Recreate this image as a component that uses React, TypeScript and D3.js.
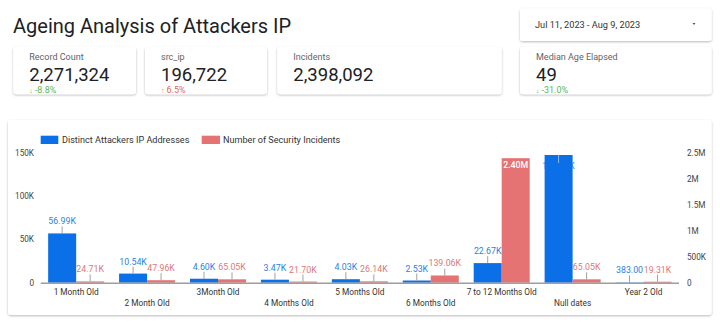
import React from "react";
import * as d3 from "d3";

const categories = [
  "1 Month Old",
  "2 Month Old",
  "3Month Old",
  "4 Months Old",
  "5 Months Old",
  "6 Months Old",
  "7 to 12 Months Old",
  "Null dates",
  "Year 2 Old",
];
const distinctIPs = [56990, 10540, 4600, 3470, 4030, 2530, 22670, 147680, 383];
const incidents = [24710, 47960, 65050, 21700, 26140, 139060, 2400000, 65050, 19310];
const seriesNames = ["Distinct Attackers IP Addresses", "Number of Security Incidents"];
const leftTicks = [0, 50000, 100000, 150000];
const rightTicks = [0, 500000, 1000000, 1500000, 2000000, 2500000];

const kpiLabels = ["Record Count", "src_ip", "Incidents", "Median Age Elapsed"];
const kpiValues = ["2,271,324", "196,722", "2,398,092", "49"];
const kpiChanges = ["-8.8%", "6.5%", "", "-31.0%"];
const kpiUp = [false, true, false, false];
const dateRange = "Jul 11, 2023 - Aug 9, 2023";
const title = "Ageing Analysis of Attackers IP";

const BLUE = "#0b6fe8";
const RED = "#e57373";
const BLUE_TXT = "#2f80e6";
const RED_TXT = "#e07777";
const FONT = "Roboto, 'Noto Sans', sans-serif";

function fmt(v: number) {
  if (v >= 1e6) return (v / 1e6).toFixed(2) + "M";
  if (v >= 1e3) return (v / 1e3).toFixed(2) + "K";
  return v.toFixed(2);
}
function fmtTick(v: number) {
  if (v === 0) return "0";
  if (v >= 1e6) return d3.format("~")(v / 1e6) + "M";
  return d3.format("~")(v / 1e3) + "K";
}

const Card = ({ x, y, w, h }: { x: number; y: number; w: number; h: number }) => (
  <rect x={x} y={y} width={w} height={h} rx={3} fill="#fff" filter="url(#shadow)" />
);

export default function App() {
  const plotL = 40.7;
  const plotR = 679;
  const yBase = 282.7;
  const yTop = 153;

  const x0 = d3.scaleBand<string>().domain(categories).range([plotL, plotR]).padding(0);
  const x1 = d3
    .scaleBand<number>()
    .domain([0, 1])
    .range([0, x0.bandwidth()])
    .paddingInner(0)
    .paddingOuter(0.266);
  const yL = d3.scaleLinear().domain([0, 150000]).range([yBase, yTop]);
  const yR = d3.scaleLinear().domain([0, 2500000]).range([yBase, yTop]);
  const clampY = yTop + 15;

  const series = [
    { vals: distinctIPs, scale: yL, color: BLUE, txt: BLUE_TXT, insideTxt: "#3a86ea", leader: true },
    { vals: incidents, scale: yR, color: RED, txt: RED_TXT, insideTxt: "#ffffff", leader: false },
  ];

  const cards = [
    { x: 13.3, y: 46.7, w: 122.7, h: 47.6 },
    { x: 145, y: 46.7, w: 122, h: 47.6 },
    { x: 277.3, y: 46.7, w: 224.4, h: 47.6 },
    { x: 520, y: 46.7, w: 191.7, h: 47.6 },
  ];

  return (
    <svg
      width={720}
      height={322}
      style={{ position: "absolute", left: 0, top: 0, background: "#fff" }}
      fontFamily={FONT}
    >
      <defs>
        <filter id="shadow" x="-10%" y="-20%" width="120%" height="150%">
          <feDropShadow dx="0" dy="1" stdDeviation="1" floodColor="#000" floodOpacity="0.28" />
        </filter>
      </defs>
      <rect x={0} y={0} width={720} height={322} fill="#fff" />

      {/* Title */}
      <text x={13} y={33} fontSize={20} fill="#202124">
        {title}
      </text>

      {/* Date selector */}
      <Card x={520} y={8.3} w={191.7} h={32.7} />
      <text x={535} y={28} fontSize={9.2} fill="#333">
        {dateRange}
      </text>
      <path d="M692.5,23 L695.5,23 L694,25 Z" fill="#555" />

      {/* KPI cards */}
      {cards.map((c, i) => (
        <g key={i}>
          <Card x={c.x} y={c.y} w={c.w} h={c.h} />
          <text x={c.x + 16} y={60} fontSize={9} fill="#5f6368">
            {kpiLabels[i]}
          </text>
          <text x={c.x + 16} y={80.5} fontSize={18.5} fill="#202124">
            {kpiValues[i]}
          </text>
          {kpiChanges[i] && (
            <text x={c.x + 16} y={92.5} fontSize={9} fill={kpiUp[i] ? "#e06666" : "#5cb85c"}>
              <tspan fontSize={7}>{kpiUp[i] ? "↑" : "↓"}</tspan>
              <tspan dx={2}>{kpiChanges[i]}</tspan>
            </text>
          )}
        </g>
      ))}

      {/* Chart card */}
      <Card x={8} y={120} w={703.7} h={195} />

      {/* Legend */}
      <rect x={40.7} y={135.7} width={17.6} height={8.3} fill={BLUE} />
      <text x={62} y={143.3} fontSize={9.1} fill="#333">
        {seriesNames[0]}
      </text>
      <rect x={201.7} y={135.7} width={18.3} height={8.3} fill={RED} />
      <text x={223} y={143.3} fontSize={9.1} fill="#333">
        {seriesNames[1]}
      </text>

      {/* Left axis ticks */}
      {leftTicks.map((t) => (
        <text key={"l" + t} x={34} y={yL(t) + 3} fontSize={8.2} fill="#444" textAnchor="end">
          {fmtTick(t)}
        </text>
      ))}
      {/* Right axis ticks */}
      {rightTicks.map((t) => (
        <text key={"r" + t} x={687} y={yR(t) + 3} fontSize={8.2} fill="#444">
          {fmtTick(t)}
        </text>
      ))}

      {/* Value labels that sit inside bars are drawn first so later bars cover them */}
      {series.map((s, si) =>
        categories.map((c, ci) => {
          const cx = (x0(c) as number) + (x1(si) as number) + x1.bandwidth() / 2;
          const top = s.scale(s.vals[ci]);
          if (top - 9 >= clampY || s.leader === false) return null;
          return (
            <text
              key={"in" + si + "-" + ci}
              x={cx}
              y={clampY + 1}
              fontSize={8.8}
              textAnchor="middle"
              fill={s.insideTxt}
            >
              {fmt(s.vals[ci])}
            </text>
          );
        })
      )}

      {/* Bars */}
      {series.map((s, si) =>
        categories.map((c, ci) => {
          const bx = (x0(c) as number) + (x1(si) as number);
          const top = s.scale(s.vals[ci]);
          return (
            <rect
              key={si + "-" + ci}
              x={bx}
              y={top}
              width={x1.bandwidth()}
              height={Math.max(0, yBase - top)}
              fill={s.color}
            />
          );
        })
      )}

      {/* Baseline */}
      <line x1={plotL} x2={plotR} y1={yBase + 0.5} y2={yBase + 0.5} stroke="#9e9e9e" strokeWidth={1.6} />

      {/* Value labels */}
      {series.map((s, si) =>
        categories.map((c, ci) => {
          const cx = (x0(c) as number) + (x1(si) as number) + x1.bandwidth() / 2;
          const top = s.scale(s.vals[ci]);
          const base = top - 9;
          const clamped = base < clampY;
          if (clamped) {
            return s.leader ? (
              <line
                key={"lb" + si + "-" + ci}
                x1={cx}
                x2={cx}
                y1={top}
                y2={top + 8}
                stroke="#8fb8f2"
                strokeWidth={1}
              />
            ) : (
              <text
                key={"lb" + si + "-" + ci}
                x={cx}
                y={clampY}
                fontSize={8.8}
                textAnchor="middle"
                fill={s.insideTxt}
                fontWeight={500}
              >
                {fmt(s.vals[ci])}
              </text>
            );
          }
          return (
            <g key={"lb" + si + "-" + ci}>
              <line x1={cx} x2={cx} y1={top} y2={top - 7} stroke="#a0a0a0" strokeWidth={1} />
              <text x={cx} y={base} fontSize={8.8} textAnchor="middle" fill={s.txt}>
                {fmt(s.vals[ci])}
              </text>
            </g>
          );
        })
      )}

      {/* X labels, staggered */}
      {categories.map((c, i) => (
        <text
          key={"x" + c}
          x={(x0(c) as number) + x0.bandwidth() / 2}
          y={i % 2 === 0 ? 294.5 : 305.5}
          fontSize={8.3}
          fill="#333"
          textAnchor="middle"
        >
          {c}
        </text>
      ))}
    </svg>
  );
}
